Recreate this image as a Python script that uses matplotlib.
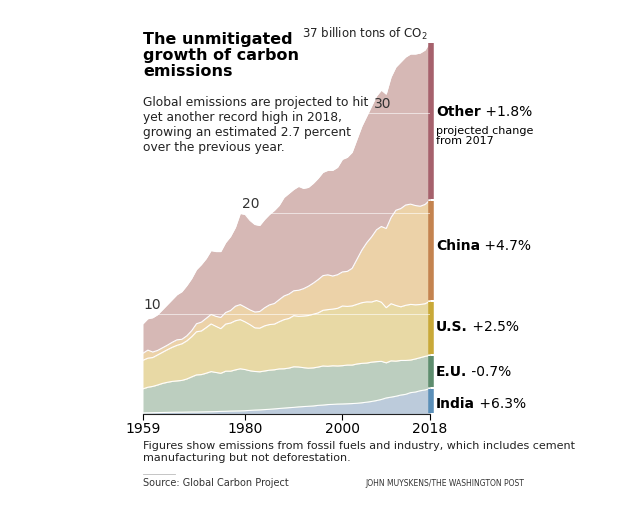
import matplotlib
matplotlib.use("Agg")
import matplotlib.pyplot as plt
import numpy as np

years = list(range(1959, 2019))
india = [.11,.12,.13,.14,.15,.16,.17,.18,.18,.19,
         .20,.20,.21,.22,.23,.24,.26,.27,.29,.30,
         .31,.33,.36,.39,.41,.44,.47,.51,.55,.59,
         .63,.66,.71,.74,.77,.80,.86,.89,.94,.96,
         .99,1.0,1.02,1.04,1.07,1.12,1.18,1.25,1.34,1.45,
         1.6,1.68,1.77,1.89,1.96,2.13,2.19,2.32,2.4,2.55]
eu = [2.4,2.55,2.62,2.75,2.9,3.0,3.08,3.12,3.17,3.3,
      3.5,3.7,3.72,3.85,4.0,3.9,3.8,4.0,3.98,4.1,
      4.2,4.1,3.95,3.85,3.8,3.85,3.9,3.9,3.95,3.92,
      3.95,4.05,3.98,3.88,3.8,3.8,3.82,3.9,3.82,3.85,
      3.8,3.82,3.86,3.84,3.92,3.93,3.9,3.92,3.88,3.8,
      3.5,3.62,3.5,3.45,3.38,3.25,3.3,3.3,3.35,3.3]
us = [2.85,2.9,2.88,3.0,3.1,3.25,3.4,3.55,3.65,3.8,
      4.0,4.3,4.35,4.55,4.75,4.6,4.45,4.7,4.8,4.9,
      4.9,4.75,4.6,4.35,4.35,4.5,4.55,4.55,4.7,4.9,
      4.95,5.1,5.05,5.15,5.25,5.35,5.4,5.55,5.65,5.65,
      5.75,5.95,5.85,5.9,5.95,6.05,6.1,6.0,6.1,5.9,
      5.5,5.7,5.55,5.35,5.5,5.55,5.4,5.3,5.25,5.4]
china = [.7,.8,.55,.45,.45,.45,.5,.55,.45,.5,
         .6,.8,.88,.92,.95,1.0,1.12,1.15,1.25,1.45,
         1.5,1.47,1.47,1.58,1.66,1.8,1.96,2.06,2.2,2.36,
         2.43,2.48,2.6,2.73,2.92,3.1,3.32,3.46,3.47,3.3,
         3.35,3.4,3.49,3.75,4.5,5.25,5.9,6.5,7.05,7.55,
         7.9,8.6,9.5,9.8,10.0,10.0,9.9,9.8,9.9,10.1]
other = [2.94,3.13,3.42,3.56,3.8,4.04,4.25,4.5,4.75,5.01,
         5.2,5.4,5.74,5.96,6.37,6.46,6.57,6.98,7.38,7.85,
         9.09,9.25,8.92,8.73,8.58,8.81,9.02,9.28,9.4,9.83,
         10.04,10.11,10.36,10.0,9.86,9.95,10.1,10.3,10.42,10.54,
         10.71,11.23,11.38,11.57,11.96,12.35,12.62,13.03,13.33,13.6,
         13.4,14.0,14.28,14.61,14.76,14.97,15.11,15.28,15.4,15.75]

series = [india, eu, us, china, other]
fills = ["#bccbdb", "#bcceBf", "#e8d9a5", "#ecd2a8", "#d6b8b5"]
bars = ["#5b8fb8", "#5e8d6e", "#c9a938", "#c4834f", "#a6616c"]
labels = [("India", " +6.3%"), ("E.U.", " -0.7%"), ("U.S.", " +2.5%"),
          ("China", " +4.7%"), ("Other", " +1.8%")]
xticks = [1959, 1980, 2000, 2018]

W, H = 619, 508
fig = plt.figure(figsize=(W/100, H/100), dpi=100)
ax = fig.add_axes([143/W, (H-414)/H, 287/W, 371/H])
x = np.array(years)
base = np.zeros(len(x))
bounds = []
for s, c in zip(series, fills):
    top = base + np.array(s)
    ax.fill_between(x, base, top, color=c, lw=0)
    ax.plot(x, top, color="white", lw=0.8)
    bounds.append((base[-1], top[-1]))
    base = top
for (b, t), c in zip(bounds, bars):
    ax.plot([2018.3, 2018.3], [b + 0.1, t - 0.1], color=c, lw=4,
            solid_capstyle="butt", clip_on=False)
for g in [10, 20, 30]:
    ax.axhline(g, color="white", lw=0.7, alpha=0.6)
ax.text(1959, 10.2, "10", fontsize=10, color="#333333", va="bottom")
ax.text(1979.3, 20.2, "20", fontsize=10, color="#333333", va="bottom")
ax.text(2006.5, 30.2, "30", fontsize=10, color="#333333", va="bottom")
ax.set_xlim(1959, 2018)
ax.set_ylim(0, 37)
for sp in ["top", "right", "left"]:
    ax.spines[sp].set_visible(False)
ax.spines["bottom"].set_color("#222222")
ax.set_yticks([])
ax.set_xticks(xticks)
ax.set_xticklabels([str(v) for v in xticks], fontsize=10)
ax.tick_params(axis="x", length=4, pad=2)
ax.text(2017.5, 37.1, "37 billion tons of CO$_2$", ha="right", va="bottom",
        fontsize=8.5, color="#222222")

ypos = [(H - 404), (H - 372), (H - 327), (H - 246), (H - 112)]
for (b, r), yp in zip(labels, ypos):
    t = fig.text(436/W, yp/H, b, fontsize=10, fontweight="bold", va="center")
    fig.canvas.draw()
    bb = t.get_window_extent()
    fig.text(bb.x1/W, yp/H, r, fontsize=10, va="center")
fig.text(436/W, (H-136)/H, "projected change\nfrom 2017", fontsize=8,
         va="center", linespacing=1.1)

fig.text(143/W, (H-32)/H, "The unmitigated\ngrowth of carbon\nemissions",
         fontsize=11.5, fontweight="bold", va="top", linespacing=1.1)
fig.text(143/W, (H-96)/H, "Global emissions are projected to hit\nyet another record high in 2018,\ngrowing an estimated 2.7 percent\nover the previous year.",
         fontsize=8.8, va="top", linespacing=1.2, color="#222222")
fig.text(143/W, (H-441)/H, "Figures show emissions from fossil fuels and industry, which includes cement\nmanufacturing but not deforestation.",
         fontsize=8, va="top", linespacing=1.2, color="#222222")
fig.add_artist(plt.Line2D([143/W, 175/W], [(H-474)/H]*2, color="#bbbbbb", lw=0.6))
fig.text(143/W, (H-483)/H, "Source: Global Carbon Project", fontsize=7,
         va="center", color="#333333")
fig.text(365/W, (H-483)/H, "JOHN MUYSKENS/THE WASHINGTON POST", fontsize=5.5,
         va="center", color="#333333")
fig.savefig("out.png", dpi=100)
